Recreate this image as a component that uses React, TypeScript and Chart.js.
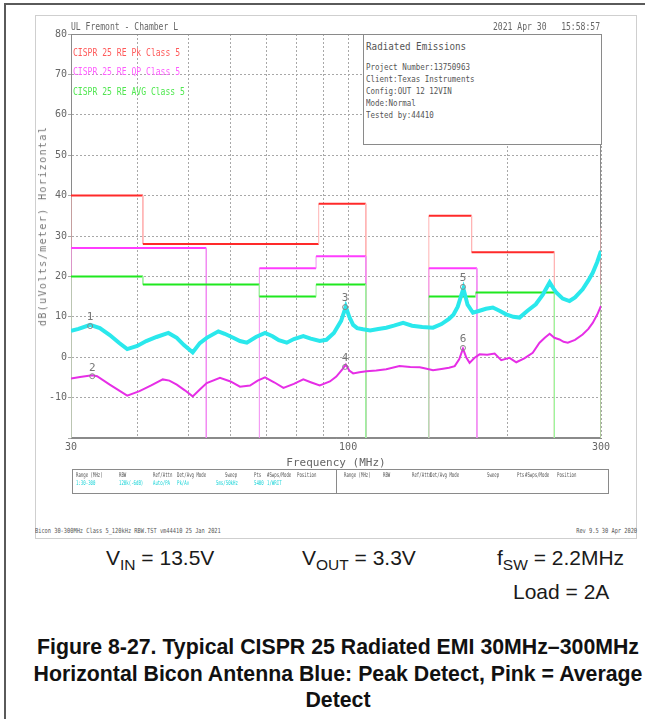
import React, { useEffect, useRef } from 'react';
import { Chart, registerables } from 'chart.js';

Chart.register(...registerables);

const MONO = '"DejaVu Sans Mono", monospace';
const SANS = '"Liberation Sans", Arial, sans-serif';

// ---------- data ----------
const xGridFreqs = [30, 40, 50, 60, 70, 80, 90, 100, 200, 300];
const xLabelFreqs = [30, 100, 300];
const yTicks = [-20, -10, 0, 10, 20, 30, 40, 50, 60, 70, 80];

// CISPR 25 class 5 limit lines (MHz, dBuV/m); null = break between bands
const pkLimitFreq = [30, 30, 41, 41, 88, 88, 108, 108, 108, 142, 142, 171, 171, 245, 245, 245, 300, 300];
const pkLimitLevel = [-20, 40, 40, 28, 28, 38, 38, -20, null, -20, 35, 35, 26, 26, -20, null, -20, 32];
const qpLimitFreq = [30, 30, 54, 54, 54, 68, 68, 87, 87, 108, 108, 108, 142, 142, 175, 175];
const qpLimitLevel = [-20, 27, 27, -20, null, -20, 22, 22, 25, 25, -20, null, -20, 22, 22, -20];
const avgLimitFreq = [30, 30, 41, 41, 68, 68, 87, 87, 108, 108, 108, 142, 142, 174, 174, 245, 245, 245, 300, 300];
const avgLimitLevel = [-20, 20, 20, 18, 18, 15, 15, 18, 18, -20, null, -20, 15, 15, 16, 16, -20, null, -20, 18];

// Peak detect trace (cyan)
const peakFreq = [30, 31, 32.6, 34, 35.5, 37, 38.3, 40, 41.6, 43.5, 45.8, 47.5, 49, 50.9, 52.5, 54.1, 56.9, 58.5, 60.7, 62.5, 64.4, 67, 69.7, 72, 74, 76.6, 79, 82.3, 85, 88.4, 91, 94, 97, 99, 100.5, 102.2, 104, 106.7, 110, 114, 118, 122, 127, 132, 138, 144.6, 150, 155, 158, 161, 165, 168, 172, 177, 182, 187.5, 193, 198.7, 205, 210.6, 218, 226, 233, 240, 244, 247, 254, 261.6, 268, 277, 284, 289.4, 295, 300];
const peakLevel = [6.5, 7.0, 8.0, 7.2, 5.5, 3.5, 2.0, 2.8, 4.0, 5.0, 6.0, 4.8, 3.0, 1.2, 3.5, 4.8, 6.4, 5.8, 4.8, 4.0, 3.6, 5.0, 6.0, 5.2, 4.2, 3.6, 4.5, 5.2, 4.6, 4.0, 4.3, 6.0, 9.0, 12.5, 10.0, 8.0, 7.2, 6.9, 6.6, 7.0, 7.3, 7.8, 8.5, 7.8, 7.5, 7.3, 8.2, 9.5, 10.5, 12.5, 17.0, 13.0, 11.0, 11.5, 12.0, 12.3, 11.5, 10.6, 10.0, 9.8, 11.5, 13.1, 15.5, 18.5, 17.0, 16.0, 14.5, 13.9, 14.8, 16.8, 19.0, 20.9, 23.5, 26.3];

// Average detect trace (pink)
const avgFreq = [30, 31.2, 32.9, 33.6, 35.5, 38.3, 40.4, 42.5, 44.7, 46, 47.5, 49.2, 50.9, 52.5, 54.1, 57.3, 60, 62.5, 65.3, 67.5, 69.7, 72.5, 75.5, 79, 82.3, 85, 88.4, 92.4, 95, 97.5, 99, 100.5, 102.2, 105, 108.3, 113, 118, 125, 131, 136.5, 140, 144.6, 150, 155, 158.9, 162, 164.7, 167, 169.5, 173, 177, 183, 189, 194.5, 201.6, 207.6, 215, 223, 229.7, 235, 240, 245, 250.5, 255, 259.7, 268, 277, 284, 289.4, 295, 300];
const avgLevel = [-5.3, -4.9, -4.5, -4.7, -6.8, -9.5, -8.4, -7.0, -5.5, -5.8, -6.8, -8.2, -9.7, -8.0, -6.4, -5.1, -6.0, -7.3, -7.0, -5.8, -5.0, -6.2, -7.6, -6.6, -5.5, -6.2, -7.0, -6.0, -4.8, -3.0, -1.8, -3.3, -4.0, -3.7, -3.5, -3.3, -3.0, -2.2, -2.4, -2.5, -2.8, -3.2, -2.9, -2.6, -2.2, -0.5, 2.1, 0.0, -1.4, -0.2, 0.7, 0.6, 0.9, -0.75, -0.15, -1.25, -0.3, 1.1, 3.6, 4.8, 5.8, 4.8, 4.4, 3.8, 3.6, 4.3, 5.6, 7.0, 8.5, 10.5, 12.7];

// markers
const markerNames = ['1', '2', '3', '4', '5', '6'];
const markerFreq = [32.6, 32.9, 98.7, 98.7, 164.7, 164.7];
const markerLevel = [7.7, -4.7, 12.4, -2.4, 17.4, 2.3];

// text blocks
const legendItems = ['CISPR 25 RE Pk Class 5', 'CISPR 25 RE QP Class 5', 'CISPR 25 RE AVG Class 5'];
const infoTitle = 'Radiated Emissions';
const infoLines = ['Project Number:13750963', 'Client:Texas Instruments', 'Config:OUT 12 12VIN', 'Mode:Normal', 'Tested by:44410'];
const tableHeaders = ['Range (MHz)', 'RBW', 'Ref/Attn', 'Det/Avg Mode', 'Sweep', 'Pts', '#Swps/Mode', 'Position'];
const tableValues = ['1:30-300', '120k(-6dB)', 'Auto/PA', 'Pk/Av', '5ms/50kHz', '5400', '1/WRIT'];

// ---------- helpers ----------
const pts = (xs: number[], ys: (number | null)[]) => xs.map((x, i) => ({ x, y: ys[i] }));

const limitDataset = (label: string, xs: number[], ys: (number | null)[], color: string, light: string) => ({
  label,
  data: pts(xs, ys),
  borderColor: color,
  borderWidth: 2,
  pointRadius: 0,
  spanGaps: false,
  segment: {
    borderColor: (c: any) => (Math.abs(c.p0.x - c.p1.x) < 0.5 ? light : color),
    borderWidth: (c: any) => (Math.abs(c.p0.x - c.p1.x) < 0.5 ? 1 : 2),
  },
});

const framePlugin = {
  id: 'frame',
  beforeDatasetsDraw(chart: any) {
    const { ctx, chartArea: a } = chart;
    ctx.save();
    ctx.setLineDash([]);
    ctx.strokeStyle = '#8a8a8a';
    ctx.lineWidth = 1;
    ctx.strokeRect(Math.round(a.left) + 0.5, Math.round(a.top) + 0.5, Math.round(a.right - a.left) - 1, Math.round(a.bottom - a.top) - 1);
    ctx.restore();
  },
};

const markerLabelPlugin = {
  id: 'markerLabels',
  afterDatasetsDraw(chart: any) {
    const { ctx } = chart;
    const meta = chart.getDatasetMeta(0);
    ctx.save();
    ctx.font = `11px ${MONO}`;
    ctx.fillStyle = '#777';
    ctx.textAlign = 'center';
    ctx.textBaseline = 'bottom';
    meta.data.forEach((p: any, i: number) => ctx.fillText(markerNames[i], p.x, p.y - 3));
    ctx.restore();
  },
};

type LP = { x: number; y: number; size: number; text: string; color?: string; sx?: number; right?: boolean; family?: string };
function Label({ x, y, size, text, color = '#666', sx = 1, right = false, family = MONO }: LP) {
  const style: React.CSSProperties = {
    position: 'absolute',
    top: y - size / 2,
    fontFamily: family,
    fontSize: size,
    lineHeight: `${size}px`,
    color,
    whiteSpace: 'pre',
    transform: sx !== 1 ? `scaleX(${sx})` : undefined,
    transformOrigin: right ? 'right center' : 'left center',
  };
  if (right) style.right = 645 - x;
  else style.left = x;
  return <div style={style}>{text}</div>;
}

function SubText({ x, base, main, sub, rest }: { x: number; base: number; main: string; sub: string; rest: string }) {
  return (
    <div style={{ position: 'absolute', left: x, top: base - 0.8465 * 21, fontFamily: SANS, fontSize: 21, lineHeight: '21px', whiteSpace: 'pre', color: '#1a1a1a' }}>
      {main}
      <span style={{ fontSize: 15.5, position: 'relative', top: 5 }}>{sub}</span>
      {rest}
    </div>
  );
}

function CaptionLine({ base, text }: { base: number; text: string }) {
  return (
    <div style={{ position: 'absolute', left: 0, width: 676, top: base - 0.8465 * 21.3, textAlign: 'center', fontFamily: SANS, fontWeight: 700, fontSize: 21.3, lineHeight: '21.3px', whiteSpace: 'pre', color: '#111' }}>
      {text}
    </div>
  );
}

export default function App() {
  const ref = useRef<HTMLCanvasElement>(null);

  useEffect(() => {
    if (!ref.current) return;
    const tickFont = { family: MONO, size: 10 };
    const chart = new Chart(ref.current, {
      type: 'line',
      data: {
        datasets: [
          {
            label: 'Markers',
            data: pts(markerFreq, markerLevel),
            showLine: false,
            pointRadius: 2.5,
            pointStyle: 'circle',
            pointBorderColor: '#888',
            pointBackgroundColor: 'rgba(0,0,0,0)',
            pointBorderWidth: 1,
          } as any,
          {
            label: 'Average',
            data: pts(avgFreq, avgLevel),
            borderColor: '#e62ee6',
            borderWidth: 2,
            pointRadius: 0,
          },
          {
            label: 'Peak',
            data: pts(peakFreq, peakLevel),
            borderColor: '#2ae8ec',
            borderWidth: 4,
            pointRadius: 0,
          },
          limitDataset('CISPR 25 RE AVG Class 5', avgLimitFreq, avgLimitLevel, '#1fe81f', '#9cf59c') as any,
          limitDataset('CISPR 25 RE QP Class 5', qpLimitFreq, qpLimitLevel, '#ff3cff', '#f28cf2') as any,
          limitDataset('CISPR 25 RE Pk Class 5', pkLimitFreq, pkLimitLevel, '#ff2a2a', '#ffb4b4') as any,
        ],
      },
      options: {
        animation: false,
        responsive: false,
        maintainAspectRatio: false,
        devicePixelRatio: 1,
        events: [],
        layout: { padding: { left: 35, right: 44, top: 34, bottom: 8 } },
        elements: { line: { tension: 0 } },
        plugins: {
          legend: { display: false },
          tooltip: { enabled: false },
          title: { display: false },
        },
        scales: {
          x: {
            type: 'logarithmic',
            min: 30,
            max: 300,
            afterBuildTicks: (s: any) => {
              s.ticks = xGridFreqs.map((v) => ({ value: v }));
            },
            afterFit: (s: any) => {
              s.height = 34;
            },
            ticks: {
              autoSkip: false,
              maxRotation: 0,
              padding: 3,
              color: '#666',
              font: tickFont,
              callback: (v: any) => (xLabelFreqs.includes(Number(v)) ? String(v) : ''),
            },
            grid: { color: '#a8a8a8', drawTicks: false, lineWidth: 1 },
            border: { display: true, color: '#8a8a8a', dash: [2, 2] },
            title: { display: true, text: 'Frequency (MHz)', color: '#666', font: { family: MONO, size: 11 }, padding: { top: 0, bottom: 2 } },
          },
          y: {
            type: 'linear',
            min: -20,
            max: 80,
            afterBuildTicks: (s: any) => {
              s.ticks = yTicks.map((v) => ({ value: v }));
            },
            afterFit: (s: any) => {
              s.width = 36;
            },
            ticks: {
              padding: 1,
              color: '#666',
              font: tickFont,
              callback: (v: any) => (Number(v) === -20 ? '' : String(v)),
            },
            grid: { color: '#a8a8a8', drawTicks: true, tickLength: 3, lineWidth: 1 },
            border: { display: true, color: '#8a8a8a', dash: [2, 2] },
            title: { display: false },
          },
        },
      } as any,
      plugins: [framePlugin, markerLabelPlugin],
    });
    return () => chart.destroy();
  }, []);

  const legendColors = ['#ff5a5a', '#ff5cff', '#4fe84f'];
  const legendY = [52.5, 71, 91];
  const infoY = [67, 79, 91, 103, 115];
  const colLeft = [76, 119, 153, 177, 225, 254, 267, 297];
  const valLeft = [76, 119, 153, 177, 216, 254, 267];
  const colRight = [344, 383, 412, 430, 487, 517, 525, 557];

  return (
    <div style={{ position: 'absolute', left: 0, top: 0, width: 645, height: 719, background: '#fff', overflow: 'hidden' }}>
      {/* outer frame */}
      <div style={{ position: 'absolute', left: 4, top: 3, width: 660, height: 740, borderLeft: '2px solid #5a5a5a', borderTop: '2px solid #5a5a5a' }} />
      {/* report panel */}
      <div style={{ position: 'absolute', left: 35, top: 15, width: 600, height: 522, border: '1px solid #cfcfcf' }} />

      <canvas ref={ref} width={645} height={480} style={{ position: 'absolute', left: 0, top: 0, width: 645, height: 480 }} />

      {/* y axis title */}
      <div style={{ position: 'absolute', left: 43, top: 226, transform: 'translate(-50%, -50%) rotate(-90deg)', fontFamily: MONO, fontSize: 10, lineHeight: '10px', letterSpacing: 1.4, color: '#777', whiteSpace: 'pre' }}>
        dB(uVolts/meter) Horizontal
      </div>

      {/* header */}
      <Label x={71} y={26} size={10.5} sx={0.77} text="UL Fremont - Chamber L" />
      <Label x={600} y={26} size={10.5} sx={0.77} right text="2021 Apr 30   15:58:57" />

      {/* legend */}
      {legendItems.map((t, i) => (
        <Label key={t} x={73} y={legendY[i]} size={10.5} sx={0.77} color={legendColors[i]} text={t} />
      ))}

      {/* info box */}
      <div style={{ position: 'absolute', left: 363, top: 34, width: 237, height: 109, border: '1px solid #8a8a8a', background: '#fff' }} />
      <Label x={366} y={46} size={11} sx={0.84} color="#555" text={infoTitle} />
      {infoLines.map((t, i) => (
        <Label key={t} x={366} y={infoY[i]} size={9.5} sx={0.79} color="#555" text={t} />
      ))}

      {/* settings table */}
      <div style={{ position: 'absolute', left: 72, top: 469, width: 535, height: 23, border: '1px solid #8a8a8a' }} />
      <div style={{ position: 'absolute', left: 336, top: 469, width: 1, height: 24, background: '#8a8a8a' }} />
      {tableHeaders.map((t, i) => (
        <Label key={'l' + t} x={colLeft[i]} y={475} size={6.5} sx={0.62} color="#555" text={t} />
      ))}
      {tableValues.map((t, i) => (
        <Label key={'v' + t} x={valLeft[i]} y={483} size={6.5} sx={0.62} color="#19d4d8" text={t} />
      ))}
      {tableHeaders.map((t, i) => (
        <Label key={'r' + t} x={colRight[i]} y={475} size={6.5} sx={0.62} color="#555" text={t} />
      ))}

      {/* footer */}
      <Label x={35} y={531} size={7} sx={0.76} color="#555" text="Bicon 30-300MHz Class 5_120kHz RBW.TST vm44410 25 Jan 2021" />
      <Label x={637} y={531} size={7} sx={0.76} right color="#555" text="Rev 9.5 30 Apr 2020" />

      {/* operating conditions */}
      <SubText x={106} base={565} main="V" sub="IN" rest=" = 13.5V" />
      <SubText x={302} base={565} main="V" sub="OUT" rest=" = 3.3V" />
      <SubText x={497} base={565} main="f" sub="SW" rest=" = 2.2MHz" />
      <div style={{ position: 'absolute', left: 513, top: 599 - 0.8465 * 21, fontFamily: SANS, fontSize: 21, lineHeight: '21px', whiteSpace: 'pre', color: '#1a1a1a' }}>Load = 2A</div>

      {/* caption */}
      <CaptionLine base={655} text="Figure 8-27. Typical CISPR 25 Radiated EMI 30MHz–300MHz" />
      <CaptionLine base={682} text="Horizontal Bicon Antenna Blue: Peak Detect, Pink = Average" />
      <CaptionLine base={708} text="Detect" />
    </div>
  );
}
